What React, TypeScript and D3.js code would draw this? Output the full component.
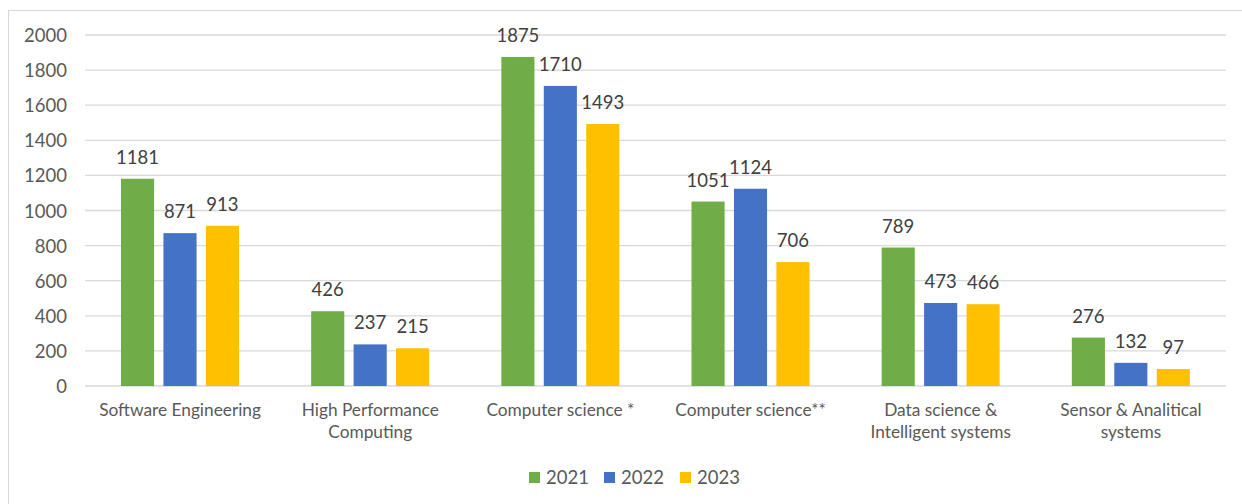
import * as d3 from "d3";
import { useEffect, useRef } from "react";

const categories = [
  ["Software Engineering"],
  ["High Performance", "Computing"],
  ["Computer science *"],
  ["Computer science**"],
  ["Data science &", "Intelligent systems"],
  ["Sensor & Analitical", "systems"],
];
const years = ["2021", "2022", "2023"];
const values2021 = [1181, 426, 1875, 1051, 789, 276];
const values2022 = [871, 237, 1710, 1124, 473, 132];
const values2023 = [913, 215, 1493, 706, 466, 97];
const yTicks = [0, 200, 400, 600, 800, 1000, 1200, 1400, 1600, 1800, 2000];
const colors = ["#70AD47", "#4472C4", "#FFC000"];

export default function App() {
  const ref = useRef<SVGSVGElement>(null);

  useEffect(() => {
    const svg = d3.select(ref.current);
    svg.selectAll("*").remove();
    const font = "Lato, 'Open Sans', sans-serif";
    const txt = "#595959";

    // chart frame
    svg.append("rect")
      .attr("x", 8.5).attr("y", 10.5)
      .attr("width", 1260).attr("height", 520)
      .attr("fill", "#fff").attr("stroke", "#d9d9d9");

    const x = d3.scaleBand<number>()
      .domain(d3.range(categories.length))
      .range([85, 1226]);
    const y = d3.scaleLinear().domain([0, 2000]).range([386, 35]);
    // bars sit in the middle of each category slot
    const xs = d3.scaleBand<number>()
      .domain([0, 1, 2])
      .range([36, 154])
      .paddingInner(0.22);

    svg.append("g").selectAll("line").data(yTicks).join("line")
      .attr("x1", 85).attr("x2", 1226)
      .attr("y1", d => y(d)).attr("y2", d => y(d))
      .attr("stroke", "#d9d9d9").attr("stroke-width", 1.3);

    svg.append("g").selectAll("text").data(yTicks).join("text")
      .attr("x", 67).attr("y", d => y(d) + 7)
      .attr("text-anchor", "end")
      .attr("font-family", font).attr("font-size", 18.5).attr("fill", txt)
      .text(d => d);

    const series = [values2021, values2022, values2023];
    series.forEach((vals, s) => {
      const g = svg.append("g");
      g.selectAll("rect").data(vals).join("rect")
        .attr("x", (_, i) => x(i)! + xs(s)!)
        .attr("width", xs.bandwidth())
        .attr("y", d => y(d))
        .attr("height", d => y(0) - y(d))
        .attr("fill", colors[s]);
      g.selectAll("text").data(vals).join("text")
        .attr("x", (_, i) => x(i)! + xs(s)! + xs.bandwidth() / 2)
        .attr("y", d => y(d) - 15)
        .attr("text-anchor", "middle")
        .attr("font-family", font).attr("font-size", 18.5).attr("fill", "#404040")
        .text(d => d);
    });

    const cat = svg.append("g").selectAll("text").data(categories).join("text")
      .attr("text-anchor", "middle")
      .attr("font-family", font).attr("font-size", 17.3).attr("fill", txt)
      .attr("transform", (_, i) => `translate(${x(i)! + x.bandwidth() / 2},416)`);
    cat.selectAll("tspan").data(d => d).join("tspan")
      .attr("x", 0).attr("dy", (_, j) => (j === 0 ? 0 : 22))
      .text(d => d);

    const leg = svg.append("g").selectAll("g").data(years).join("g")
      .attr("transform", (_, i) => `translate(${[529, 604, 680][i]},472)`);
    leg.append("rect").attr("width", 11).attr("height", 11)
      .attr("fill", (_, i) => colors[i]);
    leg.append("text").attr("x", 17).attr("y", 12)
      .attr("font-family", font).attr("font-size", 18.5).attr("fill", txt)
      .text(d => d);
  }, []);

  return (
    <svg ref={ref} width={1242} height={504}
      style={{ position: "absolute", left: 0, top: 0, background: "#fff" }} />
  );
}
